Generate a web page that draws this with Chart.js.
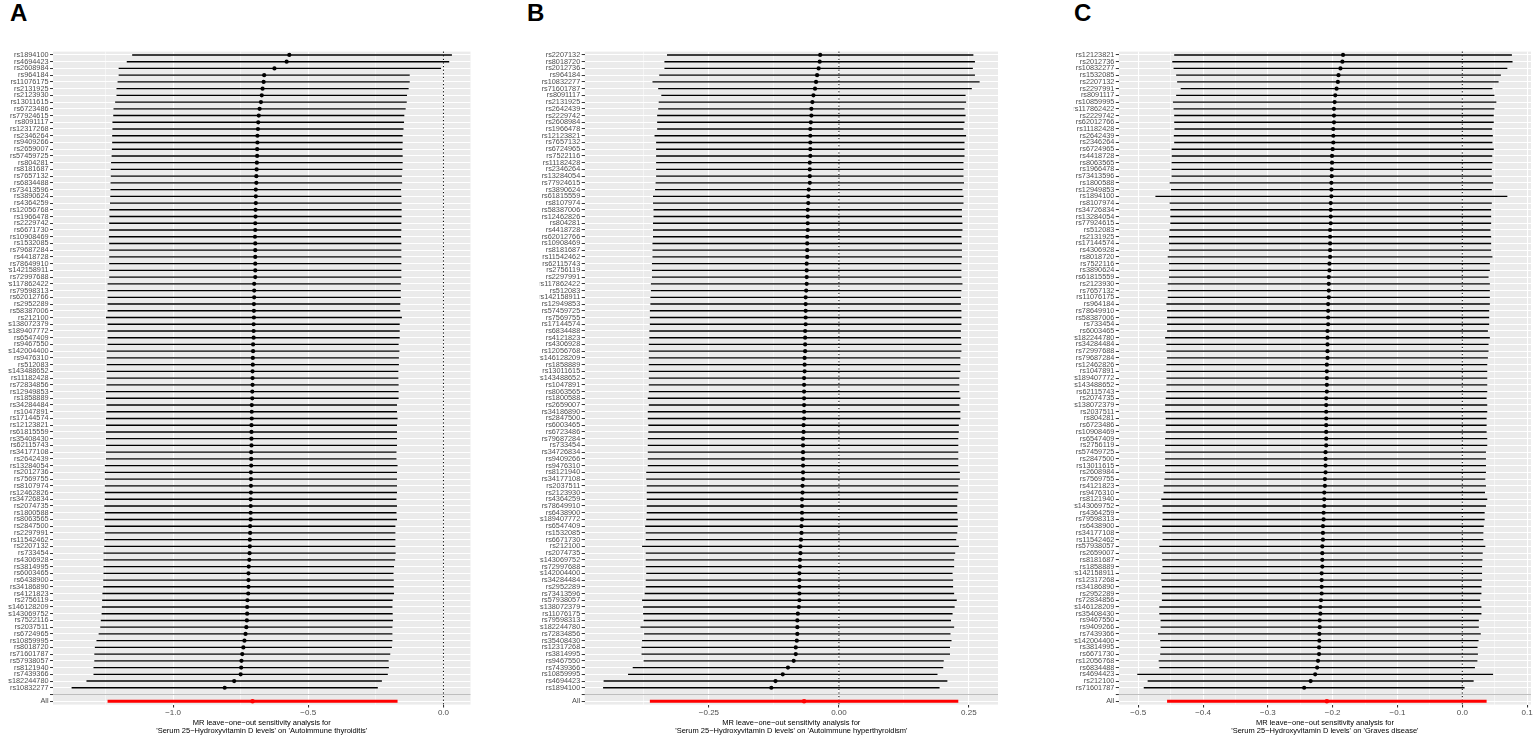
<!DOCTYPE html>
<html>
<head>
<meta charset="utf-8">
<script src="https://cdn.jsdelivr.net/npm/chart.js@4.4.1/dist/chart.umd.min.js"></script>
<style>
  body { margin: 0; background: #fff; width: 1535px; height: 738px; overflow: hidden; position: relative; font-family: "Liberation Sans", Arial, sans-serif; }
  canvas { position: absolute; top: 0; }
  .tag { position: absolute; top: 1px; font-weight: bold; font-size: 24px; line-height: 24px; color: #000; }
</style>
</head>
<body>
<div class="tag" style="left:10px">A</div>
<div class="tag" style="left:527px">B</div>
<div class="tag" style="left:1074px">C</div>
<canvas id="panelA" width="512" height="738" style="left:0px"></canvas>
<canvas id="panelB" width="512" height="738" style="left:512px"></canvas>
<canvas id="panelC" width="512" height="738" style="left:1023px"></canvas>
<script>
// ---- A: Autoimmune thyroiditis ----
const snpsA = ['rs1894100','rs4694423','rs2608984','rs964184','rs11076175','rs2131925','rs2123930','rs13011615','rs6723486','rs77924615',
  'rs8091117','rs12317268','rs2346264','rs9409266','rs2659007','rs57459725','rs804281','rs8181687','rs7657132','rs6834488',
  'rs73413596','rs3890624','rs4364259','rs12056768','rs1966478','rs2229742','rs6671730','rs10908469','rs1532085','rs79687284',
  'rs4418728','rs78649910','rs142158911','rs72997688','rs117862422','rs79598313','rs62012766','rs2952289','rs58387006','rs212100',
  'rs138072379','rs189407772','rs6547409','rs9467550','rs142004400','rs9476310','rs512083','rs143488652','rs11182428','rs72834856',
  'rs12949853','rs1858889','rs34284484','rs1047891','rs17144574','rs12123821','rs61815559','rs35408430','rs62115743','rs34177108',
  'rs2642439','rs13284054','rs2012736','rs7569755','rs8107974','rs12462826','rs34726834','rs2074735','rs1800588','rs8063565',
  'rs2847500','rs2297991','rs11542462','rs2207132','rs733454','rs4306928','rs3814995','rs6003465','rs6438900','rs34186890',
  'rs4121823','rs2756119','rs146128209','rs143069752','rs7522116','rs2037511','rs6724965','rs10859995','rs8018720','rs71601787',
  'rs57938057','rs8121940','rs7439366','rs182244780','rs10832277'];
const betaA = [-0.570,-0.580,-0.625,-0.663,-0.665,-0.669,-0.672,-0.675,-0.680,-0.683,
  -0.685,-0.686,-0.688,-0.688,-0.689,-0.689,-0.690,-0.691,-0.692,-0.692,
  -0.694,-0.694,-0.694,-0.695,-0.695,-0.696,-0.696,-0.697,-0.696,-0.696,
  -0.696,-0.696,-0.696,-0.696,-0.700,-0.700,-0.700,-0.701,-0.701,-0.701,
  -0.702,-0.702,-0.702,-0.704,-0.704,-0.705,-0.705,-0.706,-0.706,-0.706,
  -0.707,-0.707,-0.709,-0.709,-0.709,-0.710,-0.710,-0.710,-0.710,-0.711,
  -0.711,-0.711,-0.712,-0.712,-0.712,-0.712,-0.713,-0.713,-0.713,-0.713,
  -0.715,-0.715,-0.716,-0.716,-0.717,-0.718,-0.720,-0.721,-0.721,-0.721,
  -0.722,-0.725,-0.726,-0.726,-0.727,-0.729,-0.732,-0.736,-0.740,-0.744,
  -0.747,-0.748,-0.750,-0.774,-0.809];
const loA = [-1.150,-1.170,-1.200,-1.200,-1.204,-1.208,-1.208,-1.213,-1.219,-1.220,
  -1.223,-1.223,-1.224,-1.224,-1.225,-1.226,-1.228,-1.229,-1.229,-1.230,
  -1.230,-1.231,-1.232,-1.234,-1.234,-1.235,-1.235,-1.236,-1.235,-1.235,
  -1.235,-1.235,-1.235,-1.235,-1.241,-1.241,-1.241,-1.241,-1.241,-1.247,
  -1.241,-1.241,-1.241,-1.241,-1.244,-1.244,-1.244,-1.244,-1.244,-1.245,
  -1.247,-1.247,-1.245,-1.245,-1.247,-1.247,-1.247,-1.247,-1.247,-1.247,
  -1.247,-1.251,-1.251,-1.251,-1.251,-1.251,-1.251,-1.253,-1.251,-1.253,
  -1.251,-1.251,-1.253,-1.253,-1.256,-1.256,-1.256,-1.256,-1.257,-1.257,
  -1.260,-1.261,-1.262,-1.263,-1.266,-1.268,-1.274,-1.282,-1.288,-1.290,
  -1.290,-1.293,-1.293,-1.319,-1.374];
const hiA = [0.030,0.020,-0.010,-0.126,-0.126,-0.130,-0.136,-0.137,-0.141,-0.146,
  -0.147,-0.149,-0.152,-0.152,-0.153,-0.152,-0.152,-0.153,-0.155,-0.154,
  -0.158,-0.157,-0.156,-0.156,-0.156,-0.157,-0.157,-0.158,-0.157,-0.157,
  -0.157,-0.157,-0.157,-0.157,-0.159,-0.159,-0.159,-0.161,-0.161,-0.155,
  -0.163,-0.163,-0.163,-0.167,-0.164,-0.166,-0.166,-0.168,-0.168,-0.167,
  -0.167,-0.167,-0.173,-0.173,-0.171,-0.173,-0.173,-0.173,-0.173,-0.175,
  -0.175,-0.171,-0.173,-0.173,-0.173,-0.173,-0.175,-0.173,-0.175,-0.173,
  -0.179,-0.179,-0.179,-0.179,-0.178,-0.180,-0.184,-0.186,-0.185,-0.185,
  -0.184,-0.189,-0.190,-0.189,-0.188,-0.190,-0.190,-0.190,-0.192,-0.198,
  -0.204,-0.203,-0.207,-0.229,-0.244];
const overallA = [-0.706, -1.241, -0.171];   // b, lo, hi
const ticksA = [-1.0, -0.5, 0.0];
const tickTextA = ['\u22121.0', '\u22120.5', '0.0'];
const minorA = [-1.25, -0.75, -0.25];

// ---- B: Autoimmune hyperthyroidism ----
const snpsB = ['rs2207132','rs8018720','rs2012736','rs964184','rs10832277','rs71601787','rs8091117','rs2131925','rs2642439','rs2229742',
  'rs2608984','rs1966478','rs12123821','rs7657132','rs6724965','rs7522116','rs11182428','rs2346264','rs13284054','rs77924615',
  'rs3890624','rs61815559','rs8107974','rs58387006','rs12462826','rs804281','rs4418728','rs62012766','rs10908469','rs8181687',
  'rs11542462','rs62115743','rs2756119','rs2297991','rs117862422','rs512083','rs142158911','rs12949853','rs57459725','rs7569755',
  'rs17144574','rs6834488','rs4121823','rs4306928','rs12056768','rs146128209','rs1858889','rs13011615','rs143488652','rs1047891',
  'rs8063565','rs1800588','rs2659007','rs34186890','rs2847500','rs6003465','rs6723486','rs79687284','rs733454','rs34726834',
  'rs9409266','rs9476310','rs8121940','rs34177108','rs2037511','rs2123930','rs4364259','rs78649910','rs6438900','rs189407772',
  'rs6547409','rs1532085','rs6671730','rs212100','rs2074735','rs143069752','rs72997688','rs142004400','rs34284484','rs2952289',
  'rs73413596','rs57938057','rs138072379','rs11076175','rs79598313','rs182244780','rs72834856','rs35408430','rs12317268','rs3814995',
  'rs9467550','rs7439366','rs10859995','rs4694423','rs1894100'];
const betaB = [-0.036,-0.037,-0.039,-0.042,-0.044,-0.046,-0.049,-0.051,-0.053,-0.053,
  -0.054,-0.055,-0.055,-0.055,-0.055,-0.055,-0.056,-0.056,-0.056,-0.056,
  -0.058,-0.059,-0.059,-0.060,-0.060,-0.060,-0.060,-0.061,-0.061,-0.061,
  -0.061,-0.062,-0.062,-0.062,-0.062,-0.063,-0.064,-0.064,-0.064,-0.064,
  -0.064,-0.065,-0.065,-0.065,-0.065,-0.066,-0.066,-0.066,-0.067,-0.067,
  -0.067,-0.067,-0.067,-0.067,-0.067,-0.068,-0.068,-0.069,-0.069,-0.069,
  -0.069,-0.069,-0.069,-0.069,-0.070,-0.070,-0.071,-0.071,-0.071,-0.071,
  -0.072,-0.072,-0.073,-0.074,-0.074,-0.075,-0.075,-0.076,-0.076,-0.076,
  -0.076,-0.076,-0.077,-0.079,-0.080,-0.080,-0.080,-0.081,-0.083,-0.083,
  -0.087,-0.098,-0.108,-0.122,-0.130];
const loB = [-0.330,-0.335,-0.335,-0.345,-0.358,-0.347,-0.341,-0.346,-0.347,-0.349,
  -0.349,-0.349,-0.354,-0.351,-0.351,-0.351,-0.351,-0.351,-0.351,-0.352,
  -0.353,-0.357,-0.357,-0.356,-0.356,-0.357,-0.357,-0.357,-0.358,-0.358,
  -0.358,-0.359,-0.359,-0.359,-0.361,-0.361,-0.362,-0.362,-0.363,-0.363,
  -0.363,-0.364,-0.364,-0.365,-0.365,-0.365,-0.365,-0.365,-0.365,-0.365,
  -0.365,-0.367,-0.365,-0.367,-0.367,-0.366,-0.366,-0.367,-0.367,-0.367,
  -0.367,-0.367,-0.370,-0.370,-0.369,-0.369,-0.369,-0.369,-0.369,-0.370,
  -0.372,-0.371,-0.371,-0.378,-0.371,-0.371,-0.371,-0.370,-0.371,-0.371,
  -0.373,-0.378,-0.376,-0.376,-0.375,-0.381,-0.374,-0.378,-0.379,-0.379,
  -0.375,-0.396,-0.405,-0.452,-0.453];
const hiB = [0.258,0.261,0.257,0.261,0.270,0.255,0.243,0.244,0.241,0.243,
  0.241,0.239,0.244,0.241,0.241,0.241,0.239,0.239,0.239,0.240,
  0.237,0.239,0.239,0.236,0.236,0.237,0.237,0.235,0.236,0.236,
  0.236,0.235,0.235,0.235,0.237,0.235,0.234,0.234,0.235,0.235,
  0.235,0.234,0.234,0.235,0.235,0.233,0.233,0.233,0.231,0.231,
  0.231,0.233,0.231,0.233,0.233,0.230,0.230,0.229,0.229,0.229,
  0.229,0.229,0.232,0.232,0.229,0.229,0.227,0.227,0.227,0.228,
  0.228,0.227,0.225,0.230,0.223,0.221,0.221,0.218,0.219,0.219,
  0.221,0.226,0.222,0.218,0.215,0.221,0.214,0.216,0.213,0.213,
  0.201,0.200,0.189,0.208,0.193];
const overallB = [-0.067, -0.363, 0.229];
const ticksB = [-0.25, 0.0, 0.25];
const tickTextB = ['\u22120.25', '0.00', '0.25'];
const minorB = [-0.375, -0.125, 0.125];

// ---- C: Graves disease ----
const snpsC = ['rs12123821','rs2012736','rs10832277','rs1532085','rs2207132','rs2297991','rs8091117','rs10859995','rs117862422','rs2229742',
  'rs62012766','rs11182428','rs2642439','rs2346264','rs6724965','rs4418728','rs8063565','rs1966478','rs73413596','rs1800588',
  'rs12949853','rs1894100','rs8107974','rs34726834','rs13284054','rs77924615','rs512083','rs2131925','rs17144574','rs4306928',
  'rs8018720','rs7522116','rs3890624','rs61815559','rs2123930','rs7657132','rs11076175','rs964184','rs78649910','rs58387006',
  'rs733454','rs6003465','rs182244780','rs34284484','rs72997688','rs79687284','rs12462826','rs1047891','rs189407772','rs143488652',
  'rs62115743','rs2074735','rs138072379','rs2037511','rs804281','rs6723486','rs10908469','rs6547409','rs2756119','rs57459725',
  'rs2847500','rs13011615','rs2608984','rs7569755','rs4121823','rs9476310','rs8121940','rs143069752','rs4364259','rs79598313',
  'rs6438900','rs34177108','rs11542462','rs57938057','rs2659007','rs8181687','rs1858889','rs142158911','rs12317268','rs34186890',
  'rs2952289','rs72834856','rs146128209','rs35408430','rs9467550','rs9409266','rs7439366','rs142004400','rs3814995','rs6671730',
  'rs12056768','rs6834488','rs4694423','rs212100','rs71601787'];
const betaC = [-0.184,-0.185,-0.188,-0.191,-0.192,-0.194,-0.196,-0.197,-0.198,-0.198,
  -0.198,-0.199,-0.199,-0.199,-0.200,-0.201,-0.201,-0.2015,-0.2015,-0.202,
  -0.202,-0.202,-0.203,-0.203,-0.203,-0.203,-0.204,-0.204,-0.204,-0.204,
  -0.204,-0.205,-0.205,-0.206,-0.206,-0.206,-0.206,-0.207,-0.207,-0.207,
  -0.207,-0.208,-0.208,-0.208,-0.208,-0.208,-0.209,-0.209,-0.209,-0.209,
  -0.209,-0.210,-0.210,-0.210,-0.210,-0.210,-0.210,-0.210,-0.210,-0.211,
  -0.211,-0.211,-0.211,-0.212,-0.212,-0.213,-0.213,-0.213,-0.214,-0.214,
  -0.215,-0.215,-0.215,-0.216,-0.216,-0.216,-0.216,-0.217,-0.217,-0.217,
  -0.217,-0.218,-0.219,-0.219,-0.220,-0.220,-0.2205,-0.2205,-0.221,-0.221,
  -0.2226,-0.224,-0.227,-0.234,-0.244];
const loC = [-0.444,-0.447,-0.445,-0.441,-0.4395,-0.434,-0.441,-0.446,-0.445,-0.444,
  -0.444,-0.4436,-0.4446,-0.444,-0.448,-0.4477,-0.448,-0.448,-0.448,-0.451,
  -0.449,-0.473,-0.451,-0.450,-0.450,-0.450,-0.451,-0.452,-0.452,-0.452,
  -0.454,-0.452,-0.452,-0.452,-0.454,-0.454,-0.454,-0.456,-0.455,-0.455,
  -0.455,-0.455,-0.458,-0.456,-0.456,-0.455,-0.456,-0.456,-0.456,-0.456,
  -0.456,-0.457,-0.458,-0.458,-0.457,-0.457,-0.457,-0.458,-0.458,-0.458,
  -0.458,-0.458,-0.458,-0.459,-0.460,-0.4605,-0.464,-0.462,-0.462,-0.462,
  -0.4626,-0.462,-0.462,-0.467,-0.463,-0.4626,-0.462,-0.464,-0.464,-0.463,
  -0.463,-0.463,-0.467,-0.467,-0.465,-0.465,-0.469,-0.4656,-0.465,-0.4656,
  -0.468,-0.467,-0.501,-0.485,-0.491];
const hiC = [0.076,0.077,0.069,0.059,0.0555,0.046,0.049,0.052,0.049,0.048,
  0.048,0.0456,0.0466,0.046,0.048,0.0457,0.046,0.045,0.045,0.047,
  0.045,0.069,0.045,0.044,0.044,0.044,0.043,0.044,0.044,0.044,
  0.046,0.042,0.042,0.040,0.042,0.042,0.042,0.042,0.041,0.041,
  0.041,0.039,0.042,0.040,0.040,0.039,0.038,0.038,0.038,0.038,
  0.038,0.037,0.038,0.038,0.037,0.037,0.037,0.038,0.038,0.036,
  0.036,0.036,0.036,0.035,0.036,0.0345,0.038,0.036,0.034,0.034,
  0.0326,0.032,0.032,0.035,0.031,0.0306,0.030,0.030,0.030,0.029,
  0.029,0.027,0.029,0.029,0.025,0.025,0.028,0.0246,0.023,0.0236,
  0.0228,0.019,0.047,0.017,0.003];
const overallC = [-0.209, -0.455, 0.037];
const ticksC = [-0.5, -0.4, -0.3, -0.2, -0.1, 0.0, 0.1];
const tickTextC = ['\u22120.5', '\u22120.4', '\u22120.3', '\u22120.2', '\u22120.1', '0.0', '0.1'];
const minorC = [-0.45, -0.35, -0.25, -0.15, -0.05, 0.05];

const titleLine1 = 'MR leave\u2212one\u2212out sensitivity analysis for';
const exposure = "'Serum 25\u2212Hydroxyvitamin D levels'";

const FONT = '"Liberation Sans", Arial, sans-serif';

// grey panel, dotted null line, separator above "All"
const ggPanel = {
  id: 'ggPanel',
  beforeDraw(chart) {
    const {ctx, chartArea: a} = chart;
    ctx.save();
    ctx.fillStyle = '#EBEBEB';
    ctx.fillRect(a.left, a.top, a.width, a.height);
    ctx.restore();
  },
  beforeDatasetsDraw(chart) {
    const {ctx, chartArea: a, scales: {x}} = chart;
    const x0 = x.getPixelForValue(0);
    ctx.save();
    ctx.strokeStyle = '#000';
    ctx.lineWidth = 1;
    ctx.setLineDash([1.2, 2.4]);
    ctx.beginPath();
    ctx.moveTo(x0, a.top);
    ctx.lineTo(x0, a.bottom);
    ctx.stroke();
    ctx.restore();
  },
  afterDatasetsDraw(chart) {
    const {ctx, chartArea: a, scales: {y}} = chart;
    const yb = y.getPixelForValue(y.getLabels().indexOf(''));
    ctx.save();
    ctx.strokeStyle = '#BEBEBE';
    ctx.lineWidth = 1.07;
    ctx.beginPath();
    ctx.moveTo(a.left, yb);
    ctx.lineTo(a.right, yb);
    ctx.stroke();
    ctx.restore();
  }
};

function drawPanel(id, snps, beta, lo, hi, overall, majors, majorText, minors, xmin, xmax, padL, padR, outcome) {
  const labels = snps.concat(['', 'All']);
  const n = labels.length;
  const ciSnp = labels.map((_, i) => i < snps.length ? [lo[i], hi[i]] : null);
  const ciAll = labels.map((_, i) => i === n - 1 ? [overall[1], overall[2]] : null);
  const ptSnp = snps.map((s, i) => ({x: beta[i], y: s}));
  const ptAll = [{x: overall[0], y: 'All'}];
  const allTicks = majors.concat(minors);
  const isMinor = c => c.tick && minors.includes(c.tick.value);

  return new Chart(document.getElementById(id), {
    type: 'bar',
    data: {
      labels: labels,
      datasets: [
        {data: ciSnp, backgroundColor: '#000', barThickness: 0.7, grouped: false, order: 3},
        {data: ciAll, backgroundColor: '#FF0000', barThickness: 2.3, grouped: false, order: 2},
        {type: 'line', data: ptSnp, showLine: false, pointRadius: 2.1, pointBorderWidth: 0,
         pointBackgroundColor: '#000', order: 1},
        {type: 'line', data: ptAll, showLine: false, pointRadius: 2.3, pointBorderWidth: 0,
         pointBackgroundColor: '#FF0000', order: 0}
      ]
    },
    options: {
      indexAxis: 'y',
      responsive: false,
      animation: false,
      events: [],
      layout: {padding: {left: padL, right: padR, top: 51.6, bottom: 0}},
      plugins: {legend: {display: false}, tooltip: {enabled: false}},
      scales: {
        y: {
          type: 'category',
          offset: true,
          border: {display: false},
          grid: {offset: false, color: '#FFFFFF', lineWidth: 1.07, tickLength: 3, tickColor: '#333333', tickWidth: 1},
          ticks: {autoSkip: false, color: '#4D4D4D', padding: 1.5, font: {family: FONT, size: 7.3}},
          afterFit(s) { s.width = 45; s.paddingTop = 0; s.paddingBottom = 0; }
        },
        x: {
          type: 'linear',
          min: xmin,
          max: xmax,
          afterBuildTicks(s) { s.ticks = allTicks.map(v => ({value: v})); },
          border: {display: false},
          grid: {
            color: '#FFFFFF',
            lineWidth: c => isMinor(c) ? 0.53 : 1.07,
            tickLength: 3,
            tickColor: c => isMinor(c) ? 'rgba(0,0,0,0)' : '#333333'
          },
          ticks: {
            autoSkip: false, maxRotation: 0, color: '#4D4D4D', padding: 0,
            font: {family: FONT, size: 8},
            callback: v => { const k = majors.indexOf(v); return k < 0 ? '' : majorText[k]; }
          },
          title: {
            display: true,
            text: [titleLine1, exposure + " on '" + outcome + "'"],
            color: '#000',
            font: {family: FONT, size: 7.5, lineHeight: 1.15},
            padding: {top: 0, bottom: 2.5}
          },
          afterFit(s) { s.height = 33.4; s.paddingLeft = 0; s.paddingRight = 0; }
        }
      }
    },
    plugins: [ggPanel]
  });
}

drawPanel('panelA', snpsA, betaA, loA, hiA, overallA, ticksA, tickTextA, minorA, -1.444, 0.100, 8, 41.5, 'Autoimmune thyroiditis');
drawPanel('panelB', snpsB, betaB, loB, hiB, overallB, ticksB, tickTextB, minorB, -0.489, 0.306, 27.7, 26, 'Autoimmune hyperthyroidism');
drawPanel('panelC', snpsC, betaC, loC, hiC, overallC, ticksC, tickTextC, minorC, -0.530, 0.106, 50.8, 2.8, 'Graves disease');
</script>
</body>
</html>
